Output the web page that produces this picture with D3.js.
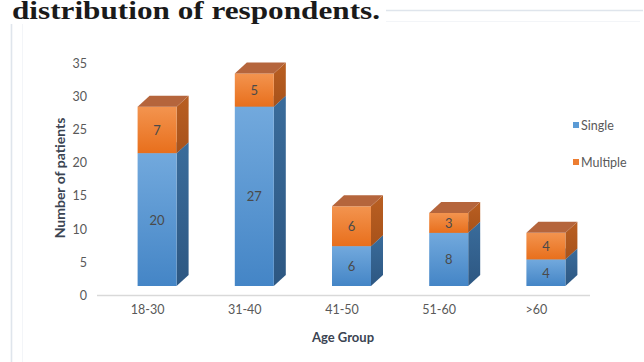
<!DOCTYPE html>
<html>
<head>
<meta charset="utf-8">
<script src="https://cdn.jsdelivr.net/npm/d3@7"></script>
<style>
  html, body { margin: 0; padding: 0; background: #fff; }
  svg { display: block; }
  text { font-family: Lato, "Open Sans", sans-serif; }
</style>
</head>
<body>
<svg id="chart" width="644" height="362"></svg>
<script>
// data
const ageGroups = ["18-30", "31-40", "41-50", "51-60", ">60"];
const singleCounts = [20, 27, 6, 8, 4];
const multipleCounts = [7, 5, 6, 3, 4];
const seriesNames = ["Single", "Multiple"];
const yTicks = [0, 5, 10, 15, 20, 25, 30, 35];

const svg = d3.select("#chart");
const W = 644, H = 362;

// frame around the figure
svg.append("path")
  .attr("d", `M11.5,${H} V10.5 H${W - 1}`)
  .attr("fill", "none").attr("stroke", "#dfe5ec").attr("stroke-width", 1.6);
svg.append("path")
  .attr("d", `M22.5,${H} V21.5 H${W - 4}`)
  .attr("fill", "none").attr("stroke", "#f3f5f8").attr("stroke-width", 1);

// title (cut off at top in the source)
svg.append("rect").attr("x", 10).attr("y", 0).attr("width", 376).attr("height", 24).attr("fill", "#fff");
svg.append("text")
  .attr("x", 12).attr("y", 19)
  .attr("textLength", 368).attr("lengthAdjust", "spacingAndGlyphs")
  .style("font-family", "'Liberation Serif', 'DejaVu Serif', serif")
  .style("font-weight", "bold").style("font-size", "25px").attr("fill", "#1a1a1a")
  .text("distribution of respondents.");

const rows = ageGroups.map((g, i) => ({ group: g, Single: singleCounts[i], Multiple: multipleCounts[i] }));
const stacked = d3.stack().keys(seriesNames)(rows);

const x = d3.scaleBand().domain(ageGroups).range([99, 585]);
const y = d3.scaleLinear().domain([0, 35]).range([295.5, 63]);

// 3d geometry: front face sits a little above the floor and right of the band centre
const lift = 9.5, depthX = 12, depthY = -11, barW = 39, offsetX = -10;

const defs = svg.append("defs");
function grad(id, top, bottom) {
  const g = defs.append("linearGradient").attr("id", id).attr("x1", 0).attr("y1", 0).attr("x2", 0).attr("y2", 1);
  g.append("stop").attr("offset", "0%").attr("stop-color", top);
  g.append("stop").attr("offset", "100%").attr("stop-color", bottom);
}
grad("gFrontSingle", "#72a9dd", "#4485c6");
grad("gFrontMultiple", "#f3944f", "#e86f1c");
grad("gSideSingle", "#3a6c9b", "#2d5782");
grad("gSideMultiple", "#b95f22", "#a8521a");

const styles = {
  Single: { front: "url(#gFrontSingle)", side: "url(#gSideSingle)", top: "#5f94c6", key: "#5b9bd5" },
  Multiple: { front: "url(#gFrontMultiple)", side: "url(#gSideMultiple)", top: "#b5653c", key: "#ed7d31" }
};

// axis baseline
svg.append("line")
  .attr("x1", 97).attr("x2", 590)
  .attr("y1", y(0)).attr("y2", y(0))
  .attr("stroke", "#d9d9d9").attr("stroke-width", 1.5);

// y axis labels
const yAxis = d3.axisLeft(y).tickValues(yTicks).tickSize(0).tickPadding(0);
svg.append("g").attr("transform", "translate(87,0)").call(yAxis)
  .call(g => g.select(".domain").remove())
  .call(g => g.selectAll("text").attr("fill", "#595959").style("font-size", "12.5px").style("font-family", "Lato, sans-serif"));

// x axis labels
const xAxis = d3.axisBottom(x).tickSize(0).tickPadding(0);
svg.append("g").attr("transform", `translate(0,${y(0) + 10})`).call(xAxis)
  .call(g => g.select(".domain").remove())
  .call(g => g.selectAll("text").attr("fill", "#595959").style("font-size", "12.5px").style("font-family", "Lato, sans-serif"));

// bars
const bars = svg.append("g");
stacked.forEach(layer => {
  const st = styles[layer.key];
  layer.forEach((d, i) => {
    const cx = x(ageGroups[i]) + x.bandwidth() / 2;
    const left = cx + offsetX, right = left + barW;
    const yb = y(d[0]) - lift, yt = y(d[1]) - lift;
    const g = bars.append("g");
    // side
    g.append("path")
      .attr("d", `M${right},${yb} L${right + depthX},${yb + depthY} L${right + depthX},${yt + depthY} L${right},${yt} Z`)
      .attr("fill", st.side);
    // front
    g.append("rect").attr("x", left).attr("y", yt).attr("width", barW).attr("height", yb - yt).attr("fill", st.front);
    // top
    g.append("path")
      .attr("d", `M${left},${yt} L${left + depthX},${yt + depthY} L${right + depthX},${yt + depthY} L${right},${yt} Z`)
      .attr("fill", st.top);
    // value label
    g.append("text")
      .attr("x", left + barW / 2).attr("y", (yt + yb) / 2)
      .attr("text-anchor", "middle").attr("dominant-baseline", "central")
      .attr("fill", "#4a4a4a").style("font-size", "13px")
      .text(d.data[layer.key]);
  });
});

// axis titles
svg.append("text")
  .attr("transform", "translate(65,178) rotate(-90)")
  .attr("text-anchor", "middle")
  .attr("fill", "#3b4452").style("font-size", "14px").style("font-weight", "bold")
  .text("Number of patients");
svg.append("text")
  .attr("x", 343).attr("y", 342)
  .attr("text-anchor", "middle")
  .attr("fill", "#3b4452").style("font-size", "13px").style("font-weight", "bold")
  .text("Age Group");

// legend
const legend = svg.append("g");
seriesNames.forEach((name, i) => {
  const ly = 125 + i * 37;
  legend.append("rect").attr("x", 573).attr("y", ly - 3).attr("width", 6).attr("height", 6).attr("fill", styles[name].key);
  legend.append("text").attr("x", 581).attr("y", ly).attr("dominant-baseline", "central")
    .attr("fill", "#595959").style("font-size", "12.5px").text(name);
});
</script>
</body>
</html>
